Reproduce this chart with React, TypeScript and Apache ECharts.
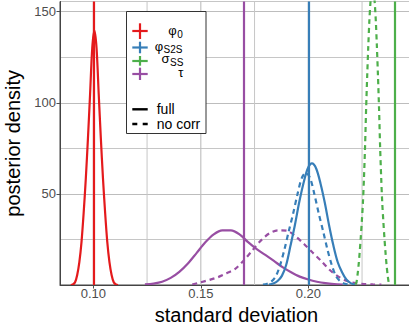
import React, { useEffect, useRef } from 'react';
import * as echarts from 'echarts';

// ---- data ----
const legendLabels = [
  { main: 'φ', sub: '0' },
  { main: 'φ', sub: 'S2S' },
  { main: 'σ', sub: 'SS' },
  { main: 'τ', sub: '' },
];
const colors = ['#E41A1C', '#377EB8', '#4DAF4A', '#984EA3'];
const trueValues = [0.10, 0.20, 0.2418, 0.17];
const lineTypeLabels = ['full', 'no corr'];

const phi0Full: number[][] = [
  [0.0895, 0], [0.0905, 0.3], [0.0915, 1.5], [0.0925, 5.5], [0.0935, 12.5], [0.0945, 23.5],
  [0.0955, 39.5], [0.0965, 58.3], [0.0975, 80.5], [0.0985, 105], [0.0995, 130], [0.1005, 139.7],
  [0.1015, 130], [0.1025, 105], [0.1035, 80.5], [0.1045, 58.3], [0.1055, 39.5], [0.1065, 23.5],
  [0.1075, 12.5], [0.1085, 5.5], [0.1095, 1.5], [0.1105, 0.3], [0.1115, 0],
];
const phiS2SFull: number[][] = [
  [0.1817, 0.2], [0.1837, 0.8], [0.1857, 2.2], [0.1877, 5], [0.1897, 11], [0.1917, 21.5],
  [0.1937, 32.5], [0.1957, 45], [0.1977, 55.6], [0.1997, 63.8], [0.2017, 66.7], [0.2037, 63.8],
  [0.2057, 55.6], [0.2077, 45], [0.2097, 32.5], [0.2117, 21.5], [0.2137, 12.5], [0.2157, 7],
  [0.2177, 3], [0.2197, 1], [0.2217, 0.2],
];
const phiS2SNoCorr: number[][] = [
  [0.1789, 0.2], [0.1809, 0.7], [0.1829, 2], [0.1849, 4.8], [0.1869, 11], [0.1889, 19.5],
  [0.1909, 29.5], [0.1929, 39], [0.1949, 49.5], [0.1969, 58.5], [0.1989, 61.7], [0.2009, 58.5],
  [0.2029, 49.5], [0.2049, 39], [0.2069, 29.5], [0.2089, 19.5], [0.2109, 11], [0.2129, 4.8],
  [0.2149, 2], [0.2169, 0.7], [0.2189, 0.2],
];
const sigmaSSNoCorr: number[][] = [
  [0.2219, 0.3], [0.2224, 1.5], [0.2229, 5.5], [0.2234, 11], [0.2239, 18], [0.2244, 26],
  [0.2249, 35], [0.2254, 45], [0.2259, 59], [0.2264, 76], [0.2269, 97], [0.2274, 115],
  [0.2279, 131], [0.2284, 145], [0.2289, 155], [0.2294, 162], [0.2299, 165], [0.2304, 162],
  [0.2309, 155], [0.2314, 145], [0.2319, 131], [0.2324, 115], [0.2329, 97], [0.2334, 76],
  [0.2339, 59], [0.2344, 45], [0.2349, 35], [0.2354, 26], [0.2359, 18], [0.2364, 11],
  [0.2369, 5.5], [0.2374, 1.5], [0.2379, 0.3],
];
const tauFull: number[][] = [
  [0.124, 0.3], [0.128, 0.8], [0.132, 1.8], [0.136, 3.9], [0.140, 7.2], [0.144, 11.8],
  [0.148, 17.5], [0.152, 23.3], [0.156, 27.8], [0.160, 30], [0.164, 30], [0.168, 27.8],
  [0.172, 23.5], [0.176, 19.7], [0.180, 16.5], [0.184, 13.2], [0.188, 9.8], [0.192, 7],
  [0.196, 4.6], [0.200, 3], [0.204, 1.8], [0.208, 1], [0.212, 0.5], [0.216, 0.2],
];
const tauNoCorr: number[][] = [
  [0.146, 0.3], [0.150, 1.5], [0.154, 2.8], [0.158, 4.3], [0.162, 6.4], [0.166, 8.8],
  [0.170, 13.5], [0.174, 19], [0.178, 24.5], [0.182, 28.4], [0.186, 30], [0.190, 29.8],
  [0.194, 26.8], [0.198, 22.5], [0.202, 17.8], [0.206, 13.2], [0.210, 8.2], [0.214, 4.6],
  [0.218, 2.2], [0.222, 1], [0.226, 0.5], [0.230, 0.3], [0.234, 0.2],
];

const xMajor = [0.10, 0.15, 0.20];
const xMinor = [0.125, 0.175, 0.225];
const yMajor = [50, 100, 150];
const yGridStep = 25;
const xRange = [0.0845, 0.2487];
const yRange = [0, 155.6];

const FONT = '"Liberation Sans", Arial, Helvetica, sans-serif';

export default function App() {
  const ref = useRef<HTMLDivElement>(null);

  useEffect(() => {
    if (!ref.current) return;
    const chart = echarts.init(ref.current, undefined, { renderer: 'svg' });

    const majorColor = '#bdbdbd';
    const minorColor = '#c6c6c6';
    const gridSeries = (data: number[][], color: string, width: number) => ({
      type: 'line',
      data,
      showSymbol: false,
      symbol: 'none',
      silent: true,
      z: 2,
      lineStyle: { color, width, type: 'solid', opacity: 1 },
    });
    const xGridLines = [
      ...xMinor.map((v) => gridSeries([[v, yRange[0]], [v, yRange[1]]], minorColor, 1)),
      ...xMajor.map((v) => gridSeries([[v, yRange[0]], [v, yRange[1]]], majorColor, 1.1)),
    ];

    const curve = (data: number[][], color: string, dashed: boolean) => ({
      type: 'line',
      data,
      showSymbol: false,
      symbol: 'none',
      smooth: 0.3,
      silent: true,
      z: 3,
      lineStyle: { color, width: 2.2, type: dashed ? [5, 4] : 'solid', cap: 'butt' },
    });

    const keyY = [31, 47.5, 61, 74];
    const keyTop = [23.3, 41.7, 56, 67.7];
    const keyBot = [39, 53.3, 65.7, 80];
    const mainRight = [176.8, 163.2, 169.6, 183.3];
    const mainY = [30.1, 46.2, 58.9, 72.2];
    const subY = [34.2, 49.8, 62.8, 0];

    const legendEls: any[] = [
      {
        type: 'rect',
        shape: { x: 126.5, y: 11.5, width: 79.5, height: 122 },
        style: { fill: '#ffffff', stroke: '#333333', lineWidth: 1 },
        z: 100,
      },
    ];
    legendLabels.forEach((lab, i) => {
      legendEls.push({
        type: 'line',
        shape: { x1: 132.3, y1: keyY[i], x2: 147.7, y2: keyY[i] },
        style: { stroke: colors[i], lineWidth: 2.2 },
        z: 101,
      });
      legendEls.push({
        type: 'line',
        shape: { x1: 140, y1: keyTop[i], x2: 140, y2: keyBot[i] },
        style: { stroke: colors[i], lineWidth: 2.2 },
        z: 101,
      });
      legendEls.push({
        type: 'text',
        x: mainRight[i],
        y: mainY[i],
        style: {
          text: lab.main,
          fontSize: 13,
          lineHeight: 10,
          fontFamily: FONT,
          fill: '#000',
          align: 'right',
          verticalAlign: 'middle',
        },
        z: 101,
      });
      if (lab.sub) {
        legendEls.push({
          type: 'text',
          x: mainRight[i] + 0.4,
          y: subY[i],
          style: {
            text: lab.sub,
            fontSize: 10,
            lineHeight: 7,
            fontFamily: FONT,
            fill: '#000',
            align: 'left',
            verticalAlign: 'middle',
          },
          z: 101,
        });
      }
    });
    const ltY = [109.3, 124];
    const ltTextY = [109, 123.7];
    lineTypeLabels.forEach((lab, i) => {
      legendEls.push({
        type: 'line',
        shape: { x1: 132.3, y1: ltY[i], x2: 147.7, y2: ltY[i] },
        style: { stroke: '#000', lineWidth: 2.4, lineDash: i === 0 ? null : [5, 5.4] },
        z: 101,
      });
      legendEls.push({
        type: 'text',
        x: 156.7,
        y: ltTextY[i],
        style: {
          text: lab,
          fontSize: 14,
          lineHeight: 12,
          fontFamily: FONT,
          fill: '#000',
          align: 'left',
          verticalAlign: 'middle',
        },
        z: 101,
      });
    });

    chart.setOption({
      animation: false,
      backgroundColor: '#ffffff',
      grid: {
        left: 60,
        right: -4,
        top: 1.5,
        bottom: 41,
        show: true,
        backgroundColor: 'rgba(0,0,0,0)',
        borderColor: '#444444',
        borderWidth: 1,
        containLabel: false,
        outerBoundsMode: 'none',
      },
      xAxis: {
        type: 'value',
        min: xRange[0],
        max: xRange[1],
        name: 'standard deviation',
        nameLocation: 'middle',
        nameGap: 15,
        nameTextStyle: { fontSize: 20, fontFamily: FONT, color: '#000' },
        axisLine: { show: true, lineStyle: { color: '#444444', width: 1 } },
        axisTick: { show: true, customValues: xMajor, length: 3.5, lineStyle: { color: '#4d4d4d' } },
        axisLabel: {
          show: true,
          customValues: xMajor,
          margin: 2,
          fontSize: 13,
          fontFamily: FONT,
          color: '#4d4d4d',
          formatter: (v: number) => v.toFixed(2),
        },
        splitLine: { show: false },
        z: 5,
      },
      yAxis: [
        {
          type: 'value',
          min: yRange[0],
          max: yRange[1],
          name: 'posterior density',
          nameLocation: 'middle',
          nameGap: 29,
          nameTextStyle: { fontSize: 20, fontFamily: FONT, color: '#000' },
          axisLine: { show: true, lineStyle: { color: '#444444', width: 1 } },
          axisTick: { show: true, customValues: yMajor, length: 3.5, lineStyle: { color: '#4d4d4d' } },
          axisLabel: {
            show: true,
            customValues: yMajor,
            margin: 4,
            fontSize: 13,
            fontFamily: FONT,
            color: '#4d4d4d',
            formatter: (v: number) => String(Math.round(v)),
          },
          splitLine: { show: false },
          z: 5,
        },
        {
          type: 'value',
          position: 'left',
          min: yRange[0],
          max: yRange[1],
          interval: yGridStep,
          axisLine: { show: false },
          axisTick: { show: false },
          axisLabel: { show: false },
          splitLine: { show: true, lineStyle: { color: [majorColor, minorColor], width: 1, type: 'solid' } },
          z: 0,
        },
      ],
      series: [
        ...xGridLines,
        curve(phi0Full, colors[0], false),
        curve(tauFull, colors[3], false),
        curve(tauNoCorr, colors[3], true),
        curve(phiS2SNoCorr, colors[1], true),
        curve(phiS2SFull, colors[1], false),
        curve(sigmaSSNoCorr, colors[2], true),
        {
          type: 'line',
          data: [[xRange[0], yRange[0]]],
          showSymbol: false,
          symbol: 'none',
          silent: true,
          z: 4,
          lineStyle: { opacity: 0 },
          markLine: {
            silent: true,
            symbol: ['none', 'none'],
            label: { show: false },
            animation: false,
            data: trueValues.map((v, i) => ({
              xAxis: v,
              lineStyle: { color: colors[i], width: 2.2, type: 'solid' },
            })),
          },
        },
      ],
      graphic: { elements: legendEls },
    });

    return () => chart.dispose();
  }, []);

  return (
    <div
      ref={ref}
      style={{ position: 'fixed', left: 0, top: 0, width: 409, height: 326, background: '#fff' }}
    />
  );
}
